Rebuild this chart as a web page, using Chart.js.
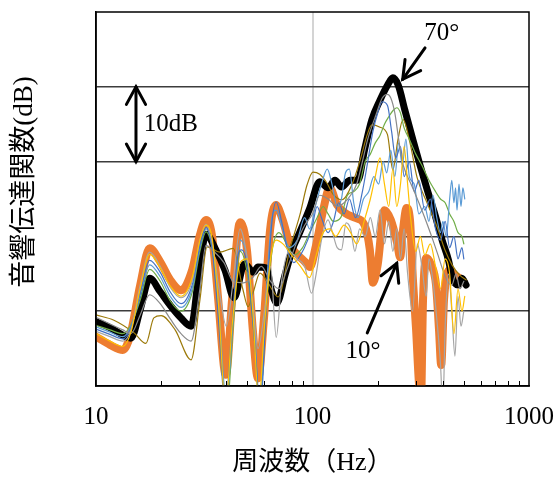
<!DOCTYPE html>
<html><head><meta charset="utf-8">
<script src="https://cdn.jsdelivr.net/npm/chart.js@4/dist/chart.umd.min.js"></script>
<style>html,body{margin:0;padding:0;background:#fff;}#wrap{width:558px;height:482px;}</style>
</head><body><div id="wrap"><canvas id="c" width="558" height="482"></canvas></div>
<script>
// ---- data (frequency in Hz, level in dB; one grid line = 10 dB) ----
const xTickLabels = [10, 100, 1000];
const yGridValues = [0, 10, 20, 30, 40, 50];
const xTitle = '周波数（Hz）';
const yTitle = '音響伝達関数(dB)';

const f70 = [10,11.6,13.5,14.5,16,17.7,19.8,22,24.7,27.5,30.2,32.2,35.5,39.4,43.4,48.5,53.4,56,61,64.6,68.5,74.6,80.6,87.5,97.2,108,118,127,136,149,162,174,188,205,222,235,249,267,291,314,339,368,397,425,443,470,490,512];
const db70 = [8.6,7.8,6.7,6.4,10.2,14.4,12.6,10.8,9.1,8.0,16.2,20.3,18.4,15.5,11.8,16.3,15.2,15.9,15.8,12.8,11.1,14.8,18.2,20.6,23.8,27.3,26.5,27.5,26.6,27.5,27.5,31.6,35.6,38.2,40.2,41.2,40.2,36.9,32.9,29.5,26.2,22.9,19.5,16.8,14.4,13.5,14.4,13.5];

const f10 = [10,11.6,13.3,14.4,16,17.7,19.8,22,24.7,27.8,30.2,32.2,34.3,36.7,39,39.8,42.5,46.3,49.8,53,56,59.6,63.7,67.8,72.8,78.7,85.6,92.3,97.2,104,112,120,130,142,157,174,184,190,200,215,230,246,254,261,272,282,291,301,310,317,324,335,353,372,384,393,405,428,455,480,500];
const db10 = [6.6,5.5,4.8,6.8,13.5,18.4,16.6,14.2,12.8,15.5,20.2,22.2,20.2,11.5,2.5,1.5,11.5,21.9,18.2,7.5,1.0,8.8,20.9,24.2,22.2,18.9,17.5,16.6,15.9,18.9,23.5,26.5,24.2,23.1,22.5,21.5,18.2,13.8,16.2,23.5,22.2,19.1,17.2,20.5,23.8,22.2,14.2,7.5,0.5,-2,11.5,17.1,16.2,13.5,7.5,2.8,11.5,15.5,14.8,14.4,13.9];

const fOl = [10,12.1,15.0,17.0,18.5,20.0,23.2,27.5,30.2,32.6,37.4,43,47.8,50.4,53.1,57.2,62.3,69.3,78.7,87.5,94.4,100.5,108,116.7,124,137,152,166,179,188,205,222,235,248,262,282,304,338,376,409,441,480,512];
const dbOl = [9.5,8.8,7.1,5.7,9.1,9.4,7.5,3.5,11.5,18.6,17.9,18.4,12.8,10.6,12.4,15.1,13.8,11.9,18.4,22.9,26.9,28.6,28.3,27.1,25.7,24.9,26.9,30.2,33.6,34.9,34.6,33.6,28.9,32.9,35.6,32.5,27.9,24.5,21.3,18.2,16.2,14.8,14.2];

const fGo = [10,11.6,13.3,14.5,16,17.7,19.8,22,24.7,27.8,30.2,32.2,34.5,37,39.6,42.5,46.3,50,53,56.5,60,64,68,73,80,88,97,104,112,120,128,140,150,160,175,185,195,205,215,225,235,245,255,265,275,285,300,315,330,350,370,390,410,430,450,470,490,505];
const dbGo = [7.0,6.0,5.3,7.2,13.0,17.6,15.8,13.4,12.0,14.5,19.5,21.5,19.5,10,-3,8,16.5,17.0,10,-2,8,17,19.5,19.0,17.5,16.0,14.5,17.5,20.5,21.0,20.0,21.5,20.5,19.0,22.5,25.0,28.0,30.5,27.0,24.0,29.0,24.0,27.0,32.0,27.0,22.0,18.0,20.0,17.5,19.0,16.0,13.0,17.0,15.0,7.0,13.0,10.0,12.0];

const fLg = [10,11.6,13.3,14.5,16,17.7,19.8,22,24.7,27.8,30.2,32.2,34.5,37,40,43,46.3,50,53,56,60,64,68,72,78,85,92,99,104,110,118,124,130,136,143,150,157,165,175,185,195,205,215,225,235,245,255,265,275,290,305,320,335,345,360,375,390,400,410,425,440,455,470,485,500];
const dbLg = [7.3,6.6,6.0,7.5,13.5,17.9,16.0,13.2,11.8,14.0,19.5,21.6,19.0,13,8,14,21.0,17,11,5,10,16,6.5,14,18,17,16,12.4,15,19.5,22.2,20.4,18.5,18.2,21.8,21,18,21,20,22.5,20,23.5,19,22,18,21,17,21,15,10,19,16,12,17,14,9,3,-3,8,15,10,4,12,8,10];

const fDg = [10,11.6,13.3,14.5,16,17.7,19.8,22,24.7,27.5,30.2,32.2,35,39,43,48,53,58,64,70,76,84,92,100,108,118,130,140,150,160,170,180,195,210,222,230,240,250,260,270,285,300,320,340,360,380,400,420,440,460,480,500];
const dbDg = [9.2,8.3,7.5,7.0,9.5,12.2,11.0,9.0,7.0,6.0,13,18.8,18,16.5,14,13.8,14.5,16.0,14,13,15.5,19,21.5,23,25.5,25,24,24.5,25.5,27,30,33,36,38.5,39.0,38.5,36.5,33,30,28.5,27,25.5,23.5,21.5,19.5,17.5,15.5,14,13.5,15,13,14];

const fBl = [10,11.6,13.3,14.5,16,17.7,19.8,22,24.7,27.8,30.2,32.2,34.5,37,39.5,42,45,47,50,54,57.5,61,65,68,72,77,82,88,95,100,105,110,118,125,132,140,148,158,170,180,190,200,210,222,232,242,255,265,280,295,310,330,350,370,390,410,430,450,470,490,500];
const dbBl = [7.6,6.9,6.3,7.8,12.5,16.8,15.2,12.6,11.0,13.5,18.8,21.2,18.0,8,-3,6,17,18.2,16,6,-3,10,22,24.6,22,18,16.5,17.5,19.5,21.5,24,22.5,20.5,22,24.5,23,25,22.5,26,30,34,36.5,38,37.5,34,30.5,32,28,30,26,27.5,23.5,25,21,19.5,22,18.5,20,17,18.5,17];

const fLb = [10,11.6,13.3,14.5,16,17.7,19.8,22,24.7,27.8,30.2,32.2,34.5,37,40,43,46.3,50,54,57,61,65,68,72,78,85,92,97,103,110,117,123,130,136,142,148,155,162,172,182,192,202,212,220,230,240,250,260,270,280,295,310,330,345,360,375,390,400,415,430,440,450,458,465,475,485,495,505];
const dbLb = [7.9,7.2,6.6,8,12,16.2,14.6,12.0,10.5,13,18.5,21,18.5,10,-2,9,19.5,17,8,-4,12,22.5,23.5,21.5,18.5,19.5,22.5,21,24,27,29,27,24,25,28.5,29,24.5,22.5,25,26,28,27,30,28.5,31.5,28,32.5,29.5,33,28,27,23,24,22,25.5,22.5,20.5,22,20,25,27.5,24.5,26.5,23.5,27,24,26.5,25];

const fGr = [10,11.6,13.3,14.5,16,17.7,19.8,22,24.7,27.8,30.2,32.2,34.5,37,40,43,46.3,50,54,57,61,65,70,76,82,90,97,105,112,118,125,135,145,155,165,175,185,195,205,215,225,235,245,255,265,280,300,320,345,370,390,410,430,450,470,490,500];
const dbGr = [8.1,7.5,7.0,8.2,11.5,15.6,14.0,11.4,10,12.5,18,20.6,18,9,-4,8,18,15,6,-3,10,18,20.5,19,17.5,18.5,20.5,22.5,24,23,22,22.5,25.5,26,27,30,31,32.5,33.5,35,36,36.8,37.2,36.5,34.5,33,31,29.5,27.5,26,25,24.5,23,22,20.5,20,19];

// ---- chart ----
const SERIF = "'Liberation Serif','Noto Sans CJK JP',serif";
const pts = (f, d) => f.map((x, i) => ({x: x, y: d[i]}));
const thin = (f, d, c) => ({data: pts(f, d), borderColor: c, borderWidth: 1.2, order: 0, clip: 0});

const annot = {
  id: 'annot',
  afterDraw(chart) {
    const {ctx, chartArea: a, scales: {x, y}} = chart;
    ctx.save();
    // frame
    ctx.strokeStyle = '#000'; ctx.lineWidth = 1.5;
    ctx.strokeRect(a.left, a.top, a.right - a.left, a.bottom - a.top);
    // minor ticks inside bottom edge
    ctx.lineWidth = 1;
    for (let dec = 10; dec < 1000; dec *= 10) {
      for (let k = 2; k <= 9; k++) {
        const px = Math.round(x.getPixelForValue(dec * k)) + 0.5;
        ctx.beginPath(); ctx.moveTo(px, a.bottom); ctx.lineTo(px, a.bottom - 5); ctx.stroke();
      }
    }
    // y axis title (rotated), sitting a little above the plot middle as in the original
    ctx.fillStyle = '#000';
    ctx.save();
    ctx.translate(25, (a.top + a.bottom) / 2 - 17);
    ctx.rotate(-Math.PI / 2);
    ctx.font = '27px ' + SERIF; ctx.textAlign = 'center'; ctx.textBaseline = 'middle';
    ctx.fillText(yTitle, 0, 0);
    ctx.restore();

    const arrowHead = (x1, y1, x2, y2) => {
      const ang = Math.atan2(y2 - y1, x2 - x1), L = 20, s = 0.5;
      ctx.beginPath();
      ctx.moveTo(x2 - L * Math.cos(ang - s), y2 - L * Math.sin(ang - s));
      ctx.lineTo(x2, y2);
      ctx.lineTo(x2 - L * Math.cos(ang + s), y2 - L * Math.sin(ang + s));
      ctx.stroke();
    };
    const arrow = (x1, y1, x2, y2) => {
      ctx.beginPath(); ctx.moveTo(x1, y1); ctx.lineTo(x2, y2); ctx.stroke();
      arrowHead(x1, y1, x2, y2);
    };
    ctx.strokeStyle = '#000'; ctx.lineWidth = 3; ctx.lineCap = 'round'; ctx.lineJoin = 'miter';
    // 10 dB double arrow
    const ax = x.getPixelForValue(15.3);
    const yT = y.getPixelForValue(40), yB = y.getPixelForValue(30);
    ctx.beginPath(); ctx.moveTo(ax, yT); ctx.lineTo(ax, yB); ctx.stroke();
    arrowHead(ax, yB, ax, yT); arrowHead(ax, yT, ax, yB);
    ctx.font = '25px ' + SERIF; ctx.textBaseline = 'middle'; ctx.textAlign = 'left';
    ctx.fillText('10dB', x.getPixelForValue(16.6), y.getPixelForValue(35));
    // 70 deg
    arrow(x.getPixelForValue(331), y.getPixelForValue(45.2), x.getPixelForValue(261), y.getPixelForValue(41.0));
    ctx.textAlign = 'center';
    ctx.fillText('70°', x.getPixelForValue(395), y.getPixelForValue(47.2));
    // 10 deg
    arrow(x.getPixelForValue(179), y.getPixelForValue(7.1), x.getPixelForValue(245), y.getPixelForValue(16.4));
    ctx.fillText('10°', x.getPixelForValue(171), y.getPixelForValue(4.6));
    ctx.restore();
  }
};

new Chart(document.getElementById('c'), {
  type: 'line',
  data: {
    datasets: [
      thin(fGo, dbGo, '#FFC000'),
      thin(fLg, dbLg, '#A5A5A5'),
      thin(fDg, dbDg, '#8A8A8A'),
      thin(fBl, dbBl, '#4472C4'),
      thin(fLb, dbLb, '#5B9BD5'),
      thin(fGr, dbGr, '#70AD47'),
      thin(fOl, dbOl, '#9C7A0A'),
      {data: pts(f70, db70), borderColor: '#000000', borderWidth: 7, order: 1, clip: 0},
      {data: pts(f10, db10), borderColor: '#ED7D31', borderWidth: 8, order: 2, clip: 0}
    ]
  },
  options: {
    responsive: false, animation: false, devicePixelRatio: 1,
    layout: {padding: {top: 12, right: 29, left: 0, bottom: 0}},
    plugins: {legend: {display: false}, tooltip: {enabled: false}},
    elements: {point: {radius: 0}, line: {cubicInterpolationMode: 'monotone', borderCapStyle: 'round', borderJoinStyle: 'round'}},
    scales: {
      x: {
        type: 'logarithmic', min: 10, max: 1000,
        afterBuildTicks: s => { s.ticks = xTickLabels.map(v => ({value: v})); },
        afterFit: s => { s.height = 96; s.paddingLeft = 0; s.paddingRight = 0; },
        ticks: {autoSkip: false, maxRotation: 0, color: '#000', padding: 16, font: {family: SERIF, size: 25},
                callback: v => String(v)},
        grid: {drawTicks: false, lineWidth: 2, color: c => (c.tick && c.tick.value === 100) ? '#d4d4d4' : 'rgba(0,0,0,0)'},
        border: {display: true, color: '#000', width: 1.5},
        title: {display: true, text: xTitle, color: '#000', font: {family: SERIF, size: 26}, padding: {top: 0, bottom: 3}}
      },
      y: {
        min: 0, max: 50,
        afterBuildTicks: s => { s.ticks = yGridValues.map(v => ({value: v})); },
        afterFit: s => { s.width = 96; },
        ticks: {display: false},
        grid: {drawTicks: false, lineWidth: 1.5, color: c => (c.tick && c.tick.value > 0 && c.tick.value < 50) ? '#3c3c3c' : 'rgba(0,0,0,0)'},
        border: {display: true, color: '#000', width: 1.5},
        title: {display: false}
      }
    }
  },
  plugins: [annot]
});
</script></body></html>
